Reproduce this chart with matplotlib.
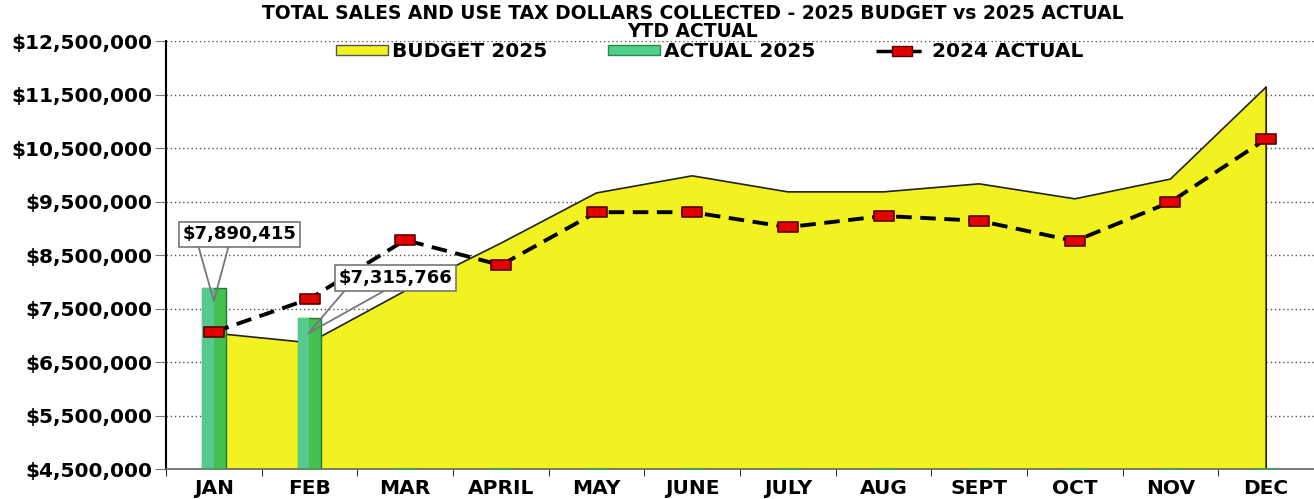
import matplotlib
matplotlib.use("Agg")
import matplotlib.pyplot as plt
import numpy as np
from matplotlib.path import Path
from matplotlib.patches import Patch
from matplotlib.lines import Line2D
from matplotlib.ticker import FuncFormatter

plt.rcParams['font.family'] = ['DejaVu Sans']

months = ["JAN", "FEB", "MAR", "APRIL", "MAY", "JUNE", "JULY", "AUG", "SEPT", "OCT", "NOV", "DEC"]
budget_2025 = [7040000, 6860000, 7830000, 8720000, 9660000, 9980000, 9680000, 9680000, 9830000, 9550000, 9920000, 11640000]
actual_2025 = [7890415, 7315766, 0, 0, 0, 0, 0, 0, 0, 0, 0, 0]
actual_2024 = [7060000, 7680000, 8780000, 8310000, 9300000, 9300000, 9020000, 9230000, 9140000, 8760000, 9490000, 10670000]
labels_2025 = ["$7,890,415", "$7,315,766"]

YMIN, YMAX = 4500000, 12500000
FS = 14.5

W, H = 1314, 499
fig = plt.figure(figsize=(W / 100, H / 100), dpi=100)
ax = fig.add_axes([166 / W, 1 - 469 / H, 1 - 166 / W, (469 - 41) / H])

x = np.arange(len(months))

# Budget area
ax.fill_between(x, budget_2025, YMIN, color="#f2f221", zorder=2)
ax.plot(np.r_[x, x[-1]], np.r_[budget_2025, YMIN], color="#222222", lw=1.2, zorder=2.1)

# Actual 2025 bars (two-tone), drawn from the axis floor
bw = 0.25
heights = [max(v - YMIN, 0) for v in actual_2025]
ax.bar(x, heights, width=bw, bottom=YMIN, color="#43c050", edgecolor="#1f7a35", lw=1.0, zorder=3)
ax.bar(x - bw / 4, heights, width=bw / 2, bottom=YMIN, color="#55c98e", edgecolor="none", zorder=3.1)
ax.bar(x, [0] * len(x), width=bw, bottom=YMIN, color="none", edgecolor="#3aa85a", lw=1.5, zorder=3.2)

# 2024 actual line with rectangular markers
rect = Path([(-1, -0.5), (1, -0.5), (1, 0.5), (-1, 0.5), (-1, -0.5)],
            [Path.MOVETO, Path.LINETO, Path.LINETO, Path.LINETO, Path.CLOSEPOLY])
ax.plot(x, actual_2024, color="black", lw=2.8, dashes=(4, 2.2), zorder=4)
ax.plot(x, actual_2024, ls="none", marker=rect, ms=15, mfc="#e30000", mec="#5a0000", mew=1.2, zorder=5)

# Callouts: label box plus two pointer lines from its bottom edge to the bar top
text_pos = [(0.27, 8890000), (1.90, 8070000)]
point_pos = [(0.0, 7640000), (0.99, 7040000)]
base_fracs = [(0.13, 0.41), (0.08, 0.46)]
for lab, tp, pp, fr in zip(labels_2025, text_pos, point_pos, base_fracs):
    ann = ax.annotate(lab, xy=tp, xytext=tp, ha="center", va="center", fontsize=13, fontweight="bold",
                      bbox=dict(boxstyle="square,pad=0.2", fc="white", ec="#777777", lw=1.2), zorder=6)
    for f in fr:
        ax.annotate("", xy=pp, xytext=(f, 0.0), textcoords=ann,
                    arrowprops=dict(arrowstyle="-", color="#777777", lw=1.3, shrinkA=0, shrinkB=0),
                    zorder=5.9)

ax.set_ylim(YMIN, YMAX)
ax.set_xlim(-0.5, (W - 166) / 96.7 - 0.5)
ax.set_yticks(np.arange(YMIN, YMAX + 1, 1000000))
ax.yaxis.set_major_formatter(FuncFormatter(lambda v, p: f"${v:,.0f}"))
ax.set_xticks(x)
ax.set_xticklabels(months)
ax.set_xticks(np.arange(-0.5, 12, 1), minor=True)
ax.tick_params(axis="x", which="major", length=0, pad=7)
ax.tick_params(axis="x", which="minor", length=5, color="black", direction="out")
ax.tick_params(axis="y", length=8, color="#777777", pad=2)
for t in ax.get_xticklabels() + ax.get_yticklabels():
    t.set_fontweight("bold")
    t.set_fontsize(FS)
ax.grid(axis="y", ls=(0, (1, 2)), color="#555555", lw=1.0, zorder=0)
ax.set_axisbelow(True)
for s in ["top", "right"]:
    ax.spines[s].set_visible(False)
ax.spines["left"].set_linewidth(1.5)
ax.spines["bottom"].set_color("#666666")
ax.spines["bottom"].set_linewidth(1.2)

fig.text(0.527, 0.955, "TOTAL SALES AND USE TAX DOLLARS COLLECTED - 2025 BUDGET vs 2025 ACTUAL\nYTD ACTUAL",
         ha="center", va="center", fontsize=13.5, fontweight="bold", linespacing=0.98)

handles = [Patch(fc="#f2f221", ec="#555555"),
           Patch(fc="#4fcf8a", ec="#2a8a4a"),
           Line2D([], [], color="black", lw=2.5, dashes=(5, 3), marker=rect, ms=14, mfc="#e30000", mec="#5a0000")]
leg = fig.legend(handles, ["BUDGET 2025", "ACTUAL 2025", "2024 ACTUAL"], ncol=3, frameon=False,
                 loc="center", bbox_to_anchor=(0.540, 0.896), prop=dict(weight="bold", size=FS),
                 handlelength=2.6, handleheight=0.35, columnspacing=3.0, handletextpad=0.2)

fig.savefig("out.png", dpi=100, facecolor="white")
